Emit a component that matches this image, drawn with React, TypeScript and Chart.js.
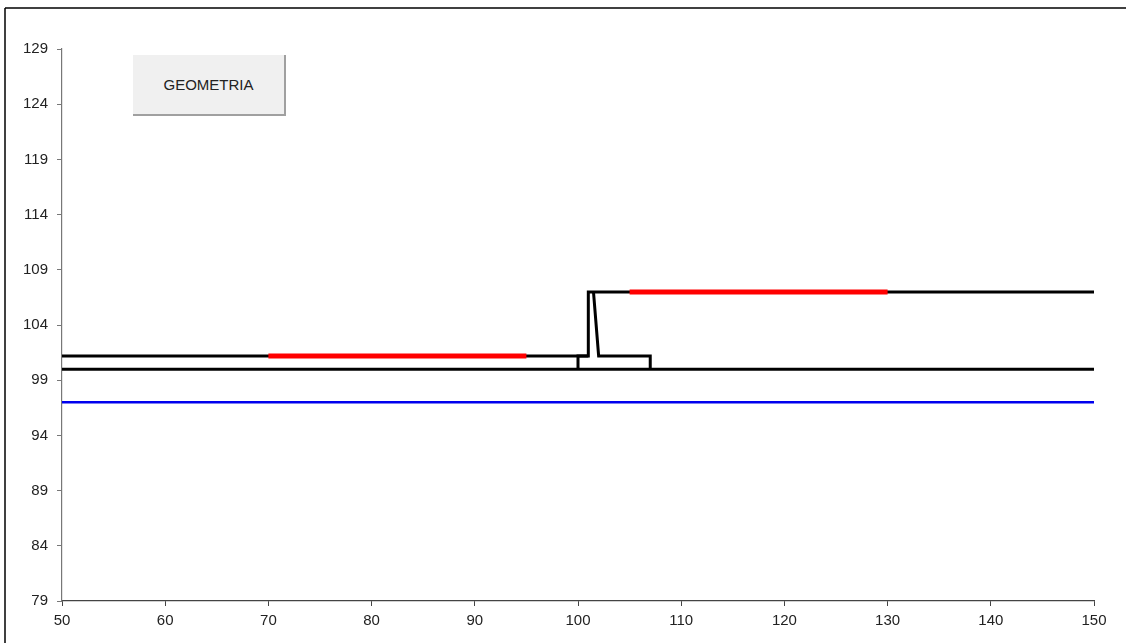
import React, { useEffect, useRef } from "react";
import { Chart, registerables } from "chart.js";

Chart.register(...registerables);

const xTickRange = { min: 50, max: 150, step: 10 };
const yTickRange = { min: 79, max: 129, step: 5 };

const groundUpper = [
  { x: 50, y: 101.2 },
  { x: 101, y: 101.2 },
  { x: 101, y: 107 },
  { x: 150, y: 107 },
];
const stemRight = [
  { x: 101.5, y: 107 },
  { x: 102, y: 101.2 },
  { x: 107, y: 101.2 },
  { x: 107, y: 100 },
];
const footingLeft = [
  { x: 100, y: 100 },
  { x: 100, y: 101.2 },
  { x: 101, y: 101.2 },
];
const foundationLine = [
  { x: 50, y: 100 },
  { x: 150, y: 100 },
];
const waterLine = [
  { x: 50, y: 97 },
  { x: 150, y: 97 },
];
const loadLeft = [
  { x: 70, y: 101.2 },
  { x: 95, y: 101.2 },
];
const loadRight = [
  { x: 105, y: 107 },
  { x: 130, y: 107 },
];

const frameBorder = {
  id: "frameBorder",
  afterDraw(chart: any) {
    const ctx = chart.ctx;
    ctx.save();
    ctx.strokeStyle = "#000";
    ctx.lineWidth = 1.5;
    ctx.beginPath();
    ctx.moveTo(5, 8);
    ctx.lineTo(5, chart.height + 20);
    ctx.stroke();
    ctx.beginPath();
    ctx.moveTo(5, 8);
    ctx.lineTo(chart.width + 20, 8);
    ctx.stroke();
    ctx.restore();
  },
};

export default function App() {
  const ref = useRef<HTMLCanvasElement>(null);
  useEffect(() => {
    document.documentElement.style.overflow = "hidden";
    document.body.style.margin = "0";
    document.body.style.overflow = "hidden";
    const mk = (data: any[], color: string, width: number) => ({
      data,
      borderColor: color,
      backgroundColor: color,
      borderWidth: width,
      pointRadius: 0,
      showLine: true,
      fill: false,
      tension: 0,
      borderCapStyle: "butt",
      borderJoinStyle: "miter",
    });
    const chart = new Chart(ref.current!, {
      type: "scatter",
      data: {
        datasets: [
          mk(loadLeft, "#ff0000", 5),
          mk(loadRight, "#ff0000", 5),
          mk(waterLine, "#0000ee", 2.5),
          mk(foundationLine, "#000", 3),
          mk(footingLeft, "#000", 3),
          mk(groundUpper, "#000", 3),
          mk(stemRight, "#000", 3),
        ] as any,
      },
      options: {
        animation: false,
        responsive: false,
        layout: { padding: { top: 49, right: 32, left: 0, bottom: 0 } },
        plugins: { legend: { display: false }, tooltip: { enabled: false } },
        scales: {
          x: {
            type: "linear",
            min: xTickRange.min,
            max: xTickRange.max,
            afterFit: (s: any) => {
              s.height = 42;
            },
            ticks: {
              stepSize: xTickRange.step,
              color: "#222",
              padding: 6,
              font: { family: "'Liberation Sans', Arial", size: 15 },
            },
            grid: {
              display: true,
              drawOnChartArea: false,
              drawTicks: true,
              tickLength: 5,
              color: "#444",
            },
            border: { display: true, color: "#444", width: 1.2 },
          },
          y: {
            type: "linear",
            min: yTickRange.min,
            max: yTickRange.max,
            afterFit: (s: any) => {
              s.width = 62;
            },
            ticks: {
              stepSize: yTickRange.step,
              color: "#222",
              padding: 9,
              font: { family: "'Liberation Sans', Arial", size: 15 },
            },
            grid: {
              display: true,
              drawOnChartArea: false,
              drawTicks: true,
              tickLength: 5,
              color: "#777",
            },
            border: { display: true, color: "#777", width: 1.2 },
          },
        },
      },
      plugins: [frameBorder],
    });
    return () => chart.destroy();
  }, []);
  return (
    <div style={{ position: "fixed", left: 0, top: 0, width: 1126, height: 643, background: "#fff", overflow: "hidden" }}>
      <canvas ref={ref} width={1126} height={643} style={{ display: "block", width: 1126, height: 643 }} />
      <div
        style={{
          position: "absolute",
          left: 133,
          top: 55,
          width: 151,
          height: 59,
          background: "#f0f0f0",
          borderRight: "2px solid #a0a0a0",
          borderBottom: "2px solid #a0a0a0",
          display: "flex",
          alignItems: "center",
          justifyContent: "center",
          fontFamily: "'Liberation Sans', Arial, sans-serif",
          fontSize: 15,
          color: "#222",
        }}
      >
        GEOMETRIA
      </div>
    </div>
  );
}
